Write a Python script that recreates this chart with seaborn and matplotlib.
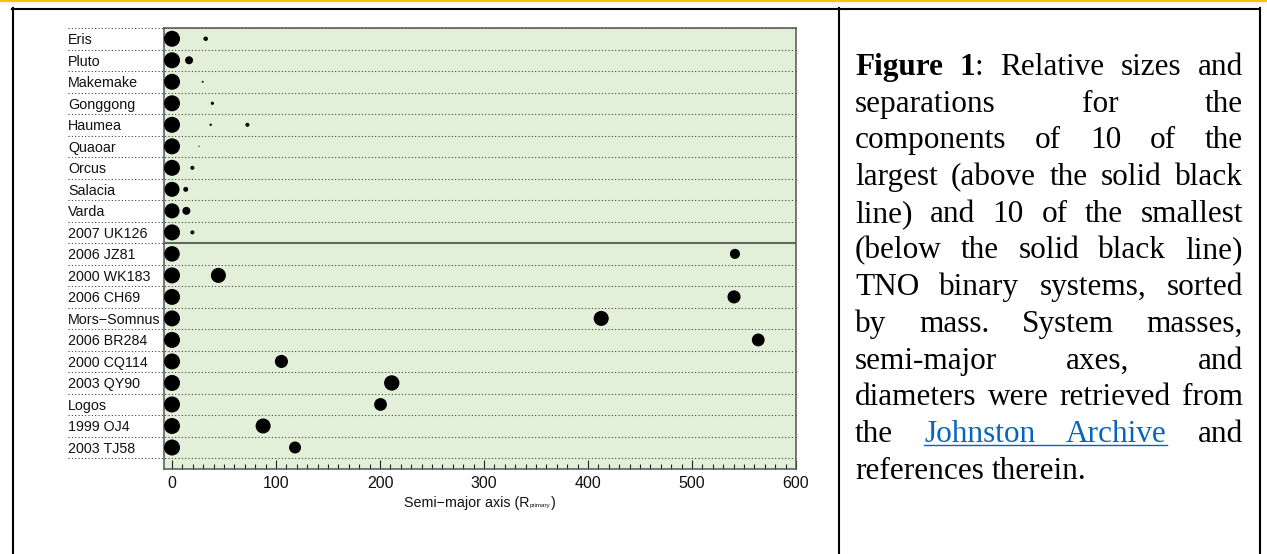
import re
import matplotlib
matplotlib.use("Agg")
import matplotlib.pyplot as plt
import pandas as pd
import seaborn as sns
from matplotlib.lines import Line2D
from matplotlib.offsetbox import TextArea, HPacker, AnchoredOffsetbox

# TNO binary systems, sorted by mass (10 largest, then 10 smallest)
systems = ["Eris", "Pluto", "Makemake", "Gonggong", "Haumea", "Quaoar", "Orcus",
           "Salacia", "Varda", "2007 UK126", "2006 JZ81", "2000 WK183", "2006 CH69",
           "Mors−Somnus", "2006 BR284", "2000 CQ114", "2003 QY90", "Logos",
           "1999 OJ4", "2003 TJ58"]
# primary diameter relative to the drawn reference size
primary_rel = [1.0, 1.0, 1.0, 1.0, 1.0, 1.0, 1.0, 0.94, 0.94, 1.0,
               0.97, 1.0, 1.0, 1.0, 1.0, 1.0, 1.0, 1.0, 1.0, 1.0]

# secondaries: system, semi-major axis (R_primary), diameter relative to primary
moon_system = ["Eris", "Pluto", "Makemake", "Gonggong", "Haumea", "Haumea", "Quaoar",
               "Orcus", "Salacia", "Varda", "2007 UK126", "2006 JZ81", "2000 WK183",
               "2006 CH69", "Mors−Somnus", "2006 BR284", "2000 CQ114", "2003 QY90",
               "Logos", "1999 OJ4", "2003 TJ58"]
moon_a = [32.4, 16.4, 29.5, 38.8, 37.2, 72.5, 26.0, 19.6, 13.2, 13.8, 19.6,
          541.3, 44.6, 540.4, 412.7, 563.7, 105.2, 211.3, 200.5, 87.6, 118.3]
moon_rel = [0.28, 0.5, 0.12, 0.2, 0.15, 0.25, 0.08, 0.25, 0.31, 0.5, 0.25,
            0.63, 0.94, 0.82, 0.94, 0.8, 0.82, 0.96, 0.8, 0.94, 0.75]

xticks = [0, 100, 200, 300, 400, 500, 600]

caption = [
    "*Figure* *1*: Relative sizes and",
    "separations for the",
    "components of 10 of the",
    "largest (above the solid black",
    "line) and 10 of the smallest",
    "(below the solid black line)",
    "TNO binary systems, sorted",
    "by mass. System masses,",
    "semi-major axes, and",
    "diameters were retrieved from",
    "the _Johnston_ _Archive_ and",
    "references therein.",
]

W, H = 1267, 554
SANS = "Liberation Sans"
SERIF = "Liberation Serif"
plt.rcParams["font.family"] = [SANS, "DejaVu Sans"]

fig = plt.figure(figsize=(W / 100, H / 100), dpi=100)

def fx(px):
    return px / W

def fy(py):
    return 1 - py / H

# plot panel
ax = fig.add_axes([fx(164), fy(469), (796 - 164) / W, (469 - 28) / H])
ax.set_facecolor("#e2efd9")

prim = pd.DataFrame({"system": systems, "a": 0.0, "rel": primary_rel})
moons = pd.DataFrame({"system": moon_system, "a": moon_a, "rel": moon_rel})
df = pd.concat([prim, moons], ignore_index=True)
df["row"] = pd.Categorical(df["system"], categories=systems, ordered=True).codes
df["area"] = (df["rel"] * 11.52) ** 2
lo, hi = df["area"].min(), df["area"].max()

sns.scatterplot(data=df, x="a", y="row", size="area", sizes=(lo, hi),
                size_norm=(lo, hi), color="black", linewidth=0, legend=False,
                ax=ax, zorder=3)

ax.set_xlim(-7.7, 600)
ax.set_ylim(len(systems), -0.5)

# row separators
lab_x = (68 - 164) / (796 - 164)
for k in range(-1, len(systems)):
    y = k + 0.5
    if k == 9:
        ax.axhline(y, xmin=lab_x, xmax=0, color="#333333", lw=0.75,
                   linestyle=(0, (1, 2.2)), clip_on=False)
        ax.axhline(y, color="#5f6b5a", lw=1.5, zorder=2)
    else:
        ax.axhline(y, xmin=lab_x, xmax=1, color="#333333", lw=0.75,
                   linestyle=(0, (1, 2.2)), clip_on=False, zorder=1)

ax.set_yticks(range(len(systems)))
ax.set_yticklabels(systems, ha="left", fontsize=10.3, color="#111111")
ax.tick_params(axis="y", length=0, pad=69.1)

ax.set_xticks(xticks)
ax.set_xticklabels([str(t) for t in xticks], fontsize=11.5, color="#111111")
ax.set_xticks(range(0, 601, 10), minor=True)
ax.tick_params(axis="x", which="major", direction="in", length=6.5, width=0.8,
               pad=5, color="#222222")
ax.tick_params(axis="x", which="minor", direction="in", length=3.6, width=0.8,
               color="#222222")
ax.set_xlabel("")
ax.set_ylabel("")
for s in ax.spines.values():
    s.set_color("#555555")
    s.set_linewidth(1.1)

# x label with a tiny subscript
tp = dict(fontsize=10.3, family=SANS, color="#111111")
lab = HPacker(children=[TextArea("Semi−major axis (R", textprops=tp),
                        TextArea("primary", textprops=dict(tp, fontsize=4.5)),
                        TextArea(")", textprops=tp)],
              align="baseline", pad=0, sep=0)
ax.add_artist(AnchoredOffsetbox(loc="center", child=lab, bbox_to_anchor=(0.5, -0.077),
                                bbox_transform=ax.transAxes, frameon=False,
                                pad=0, borderpad=0))

# table frame
fig.add_artist(Line2D([0, 1], [fy(1), fy(1)], transform=fig.transFigure,
                      color="#ffc000", lw=1.6))
frame = dict(transform=fig.transFigure, color="black", lw=1.5)
fig.add_artist(Line2D([fx(12), fx(1260)], [fy(8.5), fy(8.5)], **frame))
for xp in (13, 838.5, 1259.5):
    fig.add_artist(Line2D([fx(xp), fx(xp)], [fy(8), 0], **frame))

# justified caption
renderer = fig.canvas.get_renderer()
CAP = 22.5
LINK = "#0563c1"


def style_of(seg):
    if seg.startswith("*"):
        return "bold"
    if seg.startswith("_"):
        return "link"
    return "normal"


def text_kw(style):
    return dict(fontsize=CAP, family=SERIF,
                weight="bold" if style == "bold" else "normal",
                color=LINK if style == "link" else "black")


def width(txt, style):
    t = fig.text(0, 0, txt, **text_kw(style))
    w = t.get_window_extent(renderer).width
    t.remove()
    return w


space = width("x x", "normal") - width("xx", "normal")
x0, x1 = 855, 1243
for i, line in enumerate(caption):
    base = 75 + i * 36.7
    words = []
    for word in line.split(" "):
        segs = [(s.strip("*_"), style_of(s))
                for s in re.split(r"(\*[^*]*\*|_[^_]*_)", word) if s]
        words.append((segs, sum(width(t, st) for t, st in segs)))
    total = sum(w for _, w in words)
    last = i == len(caption) - 1
    gap = space if last or len(words) < 2 else (x1 - x0 - total) / (len(words) - 1)
    x = x0
    link_span = []
    for segs, w in words:
        for t, st in segs:
            fig.text(fx(x), fy(base), t, va="baseline", ha="left", **text_kw(st))
            if st == "link":
                link_span.append(x)
                link_span.append(x + width(t, st))
            x += width(t, st)
        x += gap
    if link_span:
        fig.add_artist(Line2D([fx(min(link_span)), fx(max(link_span))],
                              [fy(base + 3), fy(base + 3)],
                              transform=fig.transFigure, color=LINK, lw=1.0))

fig.savefig("out.png", dpi=100)
